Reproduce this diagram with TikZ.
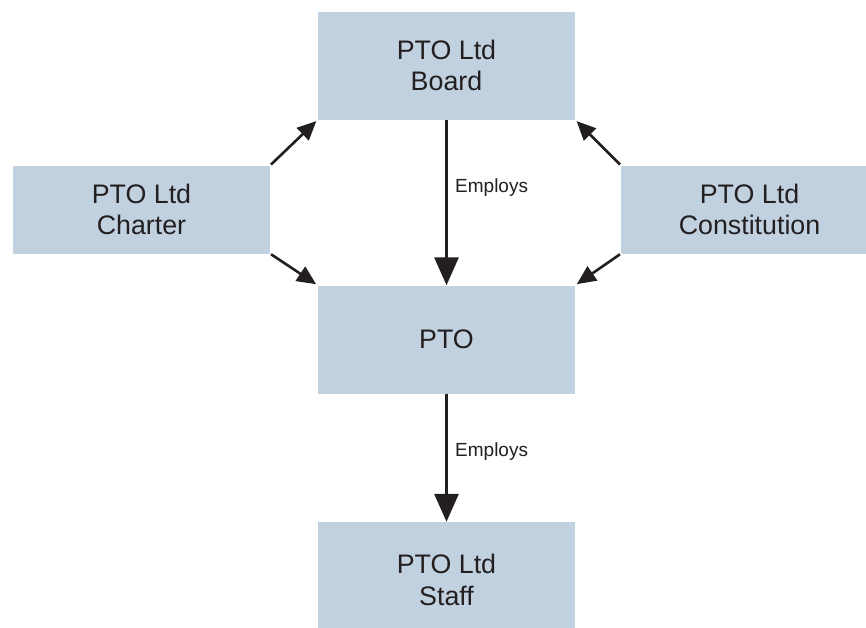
\documentclass[tikz,border=0pt]{standalone}
\usepackage{fontspec}
\setmainfont{Liberation Sans}
\usepackage{xcolor}
\usetikzlibrary{positioning,arrows.meta}

\definecolor{boxblue}{HTML}{C1D1E0}
\definecolor{inkgrey}{HTML}{231F20}

\begin{document}
\begin{tikzpicture}[x=1pt,y=-1pt,
    orgbox/.style={rectangle, fill=boxblue, text=inkgrey, align=center, inner sep=0pt,
        minimum width=257pt, minimum height=108pt, font=\fontsize{26.8}{31.5}\selectfont},
    bigarrow/.style={draw=inkgrey, line width=3pt, -{Triangle[length=28pt,width=24pt]}},
    smallarrow/.style={draw=inkgrey, line width=2.6pt, -{Triangle[length=19pt,width=17pt]}},
    linklabel/.style={anchor=west, text=inkgrey, inner sep=0pt, font=\fontsize{19}{22}\selectfont}]
    \useasboundingbox (0,0) rectangle (866,627);

    \node(board) [orgbox] at (446.5,65.5) {PTO Ltd\\Board};
    \node(charter) [orgbox, minimum height=88pt] at (141.5,209.5) {PTO Ltd\\Charter};
    \node(constitution) [orgbox, minimum height=88pt] at (749.5,209.5) {PTO Ltd\\Constitution};
    \node(pto) [orgbox] at (446.5,339.5) {PTO};
    \node(staff) [orgbox, minimum height=116pt] at (446.5,580) {PTO Ltd\\Staff};

    \draw[bigarrow] (board.south) -- (pto.north);
    \node(employs1) [linklabel] at (455,188) {Employs};
    \draw[bigarrow] (pto.south) -- (staff.north);
    \node(employs2) [linklabel] at (455,452) {Employs};

    \draw[smallarrow, shorten <=1pt, shorten >=2pt] (charter.north east) -- (board.south west);
    \draw[smallarrow, shorten <=1pt, shorten >=2pt] (charter.south east) -- (pto.north west);
    \draw[smallarrow, shorten <=1pt, shorten >=2pt] (constitution.north west) -- (board.south east);
    \draw[smallarrow, shorten <=1pt, shorten >=2pt] (constitution.south west) -- (pto.north east);
\end{tikzpicture}
\end{document}
